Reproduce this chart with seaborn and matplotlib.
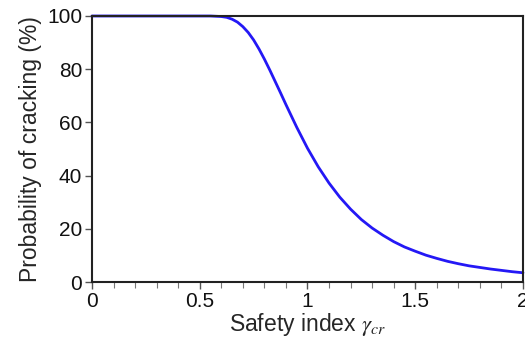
import matplotlib
matplotlib.use("Agg")
import matplotlib.pyplot as plt
import seaborn as sns
import pandas as pd
from matplotlib.ticker import MultipleLocator

safety_index = [0.0, 0.5, 0.55, 0.575, 0.6, 0.625, 0.65, 0.675, 0.7, 0.725, 0.75, 0.775,
                0.8, 0.825, 0.85, 0.875, 0.9, 0.95, 1.0,
                1.05, 1.1, 1.15, 1.2, 1.25, 1.3, 1.35, 1.4, 1.45, 1.5, 1.55, 1.6,
                1.65, 1.7, 1.75, 1.8, 1.85, 1.9, 1.95, 2.0]
probability = [100.0, 100.0, 100.0, 99.9, 99.8, 99.5, 98.8, 97.7, 96.0, 93.8, 91.0, 87.6,
               83.8, 79.7, 75.4, 71.1, 66.7, 58.2, 50.3,
               43.3, 37.2, 31.9, 27.4, 23.5, 20.3, 17.6, 15.2, 13.2, 11.6, 10.1, 8.9,
               7.8, 6.9, 6.1, 5.5, 4.9, 4.4, 3.9, 3.5]
x_ticks = [0, 0.5, 1, 1.5, 2]
x_tick_labels = ["0", "0.5", "1", "1.5", "2"]
y_ticks = [0, 20, 40, 60, 80, 100]

df = pd.DataFrame({"x": safety_index, "p": probability})

sns.set_style("ticks")
plt.rcParams["font.family"] = ["Liberation Sans", "DejaVu Sans"]
plt.rcParams["mathtext.fontset"] = "stix"

fig = plt.figure(figsize=(5.25, 3.44), dpi=100)
ax = fig.add_axes([0.1752, 0.180, 0.821, 0.7735])
sns.lineplot(data=df, x="x", y="p", ax=ax, color="#2418f5", linewidth=2, clip_on=False)

ax.set_xlim(0, 2)
ax.set_ylim(0, 100)
ax.set_xticks(x_ticks)
ax.set_xticklabels(x_tick_labels)
ax.xaxis.set_minor_locator(MultipleLocator(0.1))
ax.set_yticks(y_ticks)
for s in ax.spines.values():
    s.set_visible(True)
    s.set_color("#222222")
    s.set_linewidth(1.5)
ax.tick_params(axis="both", which="major", direction="out", length=5, width=1,
               color="#555555", labelsize=15, pad=2, labelcolor="#111111")
ax.tick_params(axis="x", which="minor", direction="out", length=4, width=0.8, color="#777777")
ax.set_xlabel(r"Safety index $\gamma_{cr}$", fontsize=16.5, labelpad=0)
ax.set_ylabel("Probability of cracking (%)", fontsize=16.5, labelpad=4)

fig.savefig("out.png", dpi=100)
